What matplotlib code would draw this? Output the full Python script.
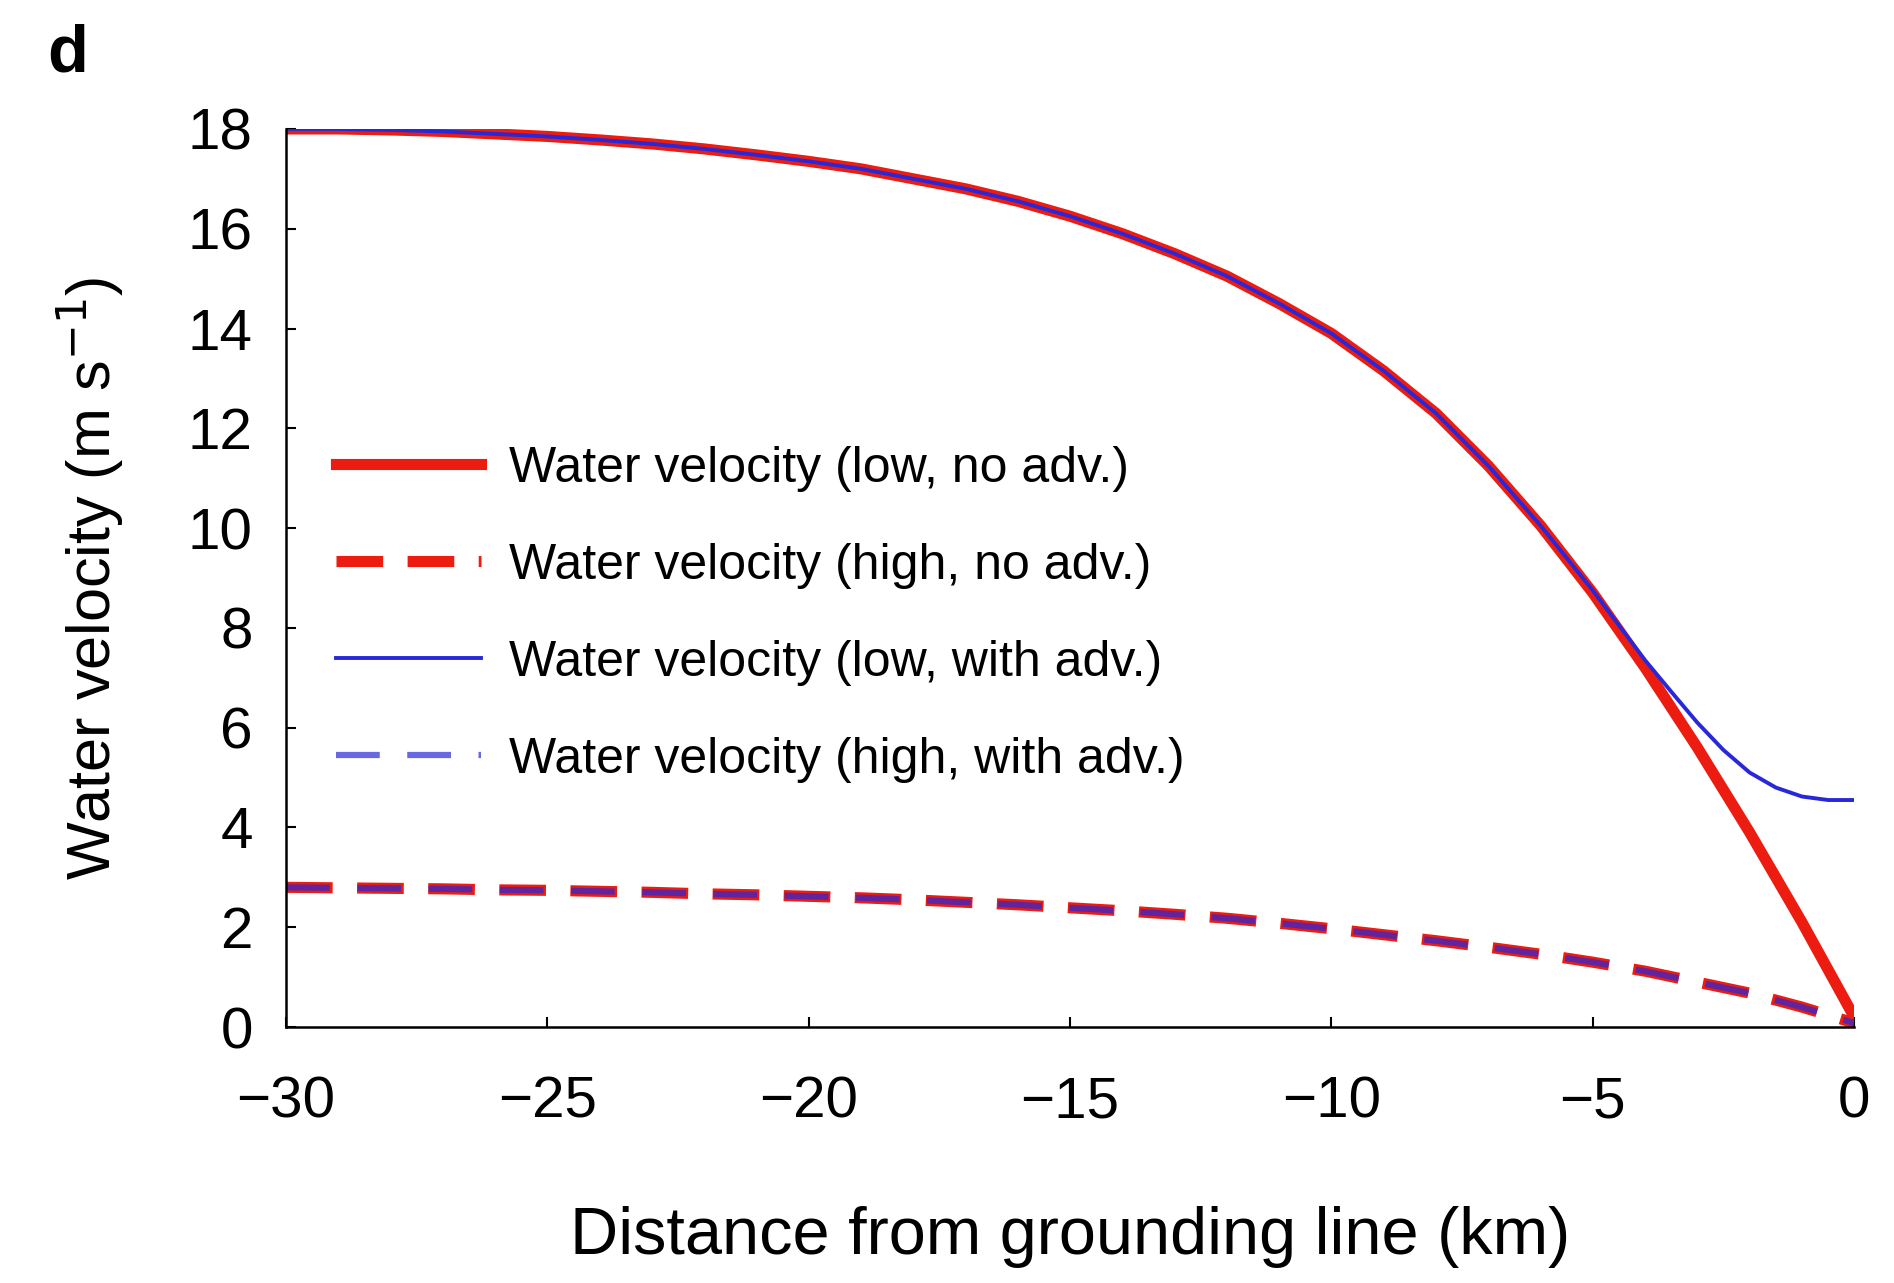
import numpy as np
import matplotlib.pyplot as plt

# distance from grounding line (km)
dist_km = [-30, -29, -28, -27, -26, -25, -24, -23, -22, -21, -20, -19, -18, -17, -16,
           -15, -14, -13, -12, -11, -10, -9, -8, -7, -6, -5, -4.5, -4, -3.5, -3,
           -2.5, -2, -1.5, -1, -0.5, 0]

# low discharge, no advection
low_no_adv = [18.0, 18.0, 17.98, 17.95, 17.9, 17.85, 17.78, 17.7, 17.6, 17.48, 17.35,
              17.2, 17.0, 16.8, 16.55, 16.25, 15.9, 15.5, 15.05, 14.5, 13.9, 13.15,
              12.3, 11.25, 10.05, 8.7, 7.95, 7.2, 6.4, 5.6, 4.75, 3.9, 3.0, 2.1, 1.15, 0.2]

# low discharge, with advection
low_adv = [18.0, 18.0, 17.98, 17.95, 17.9, 17.85, 17.78, 17.7, 17.6, 17.48, 17.35,
           17.2, 17.0, 16.8, 16.55, 16.25, 15.9, 15.5, 15.05, 14.5, 13.9, 13.15,
           12.3, 11.25, 10.05, 8.75, 8.05, 7.35, 6.72, 6.1, 5.55, 5.1, 4.8, 4.62, 4.55, 4.55]

# high discharge, no advection
high_no_adv = [2.8, 2.79, 2.78, 2.77, 2.75, 2.74, 2.72, 2.7, 2.67, 2.65, 2.62, 2.59,
               2.55, 2.5, 2.45, 2.39, 2.33, 2.26, 2.18, 2.08, 1.97, 1.85, 1.73, 1.6,
               1.46, 1.3, 1.21, 1.12, 1.01, 0.9, 0.79, 0.68, 0.54, 0.4, 0.24, 0.08]

# high discharge, with advection
high_adv = [2.8, 2.79, 2.78, 2.77, 2.75, 2.74, 2.72, 2.7, 2.67, 2.65, 2.62, 2.59,
            2.55, 2.5, 2.45, 2.39, 2.33, 2.26, 2.18, 2.08, 1.97, 1.85, 1.73, 1.6,
            1.46, 1.3, 1.21, 1.12, 1.01, 0.9, 0.79, 0.68, 0.54, 0.4, 0.24, 0.08]

red = '#ec1c10'
blue = '#2828d8'

plt.rcParams['font.family'] = ['Liberation Sans', 'DejaVu Sans']

fig = plt.figure(figsize=(18.94, 12.83), dpi=100)
ax = fig.add_axes([0.151, 0.1995, 0.828, 0.700])

ax.plot(dist_km, low_no_adv, color=red, lw=8,
        label='Water velocity (low, no adv.)')
ax.plot(dist_km, high_no_adv, color=red, lw=8, dashes=(4.2, 2.2),
        label='Water velocity (high, no adv.)')
ax.plot(dist_km, low_adv, color=blue, lw=2.8,
        label='Water velocity (low, with adv.)')
ax.plot(dist_km, high_adv, color=blue, lw=4.5, dashes=(7, 4.4), alpha=0.7,
        label='Water velocity (high, with adv.)')

ax.set_xlim(-30, 0)
ax.set_ylim(0, 18)
ax.set_xticks([-30, -25, -20, -15, -10, -5, 0])
ax.set_yticks(np.arange(0, 19, 2))
ax.set_xticklabels(['\u221230', '\u221225', '\u221220', '\u221215', '\u221210', '\u22125', '0'])

for s in ['top', 'right']:
    ax.spines[s].set_visible(False)
for s in ['left', 'bottom']:
    ax.spines[s].set_linewidth(1.8)
ax.tick_params(direction='in', length=7, width=1.5, labelsize=42)
ax.tick_params(axis='x', pad=35)
ax.tick_params(axis='y', pad=24)

ax.set_xlabel('Distance from grounding line (km)', fontsize=48, labelpad=55)
ax.set_ylabel('Water velocity (m s$^{-1}$)', fontsize=44, labelpad=44)

leg = ax.legend(loc='upper left', bbox_to_anchor=(0.032, 0.647), frameon=False,
                fontsize=36, handlelength=2.9, handletextpad=0.55,
                labelspacing=1.02, borderpad=0, borderaxespad=0)

fig.text(0.025, 0.982, 'd', fontsize=48, fontweight='bold', va='top', ha='left')

fig.savefig('out.png', dpi=100)
